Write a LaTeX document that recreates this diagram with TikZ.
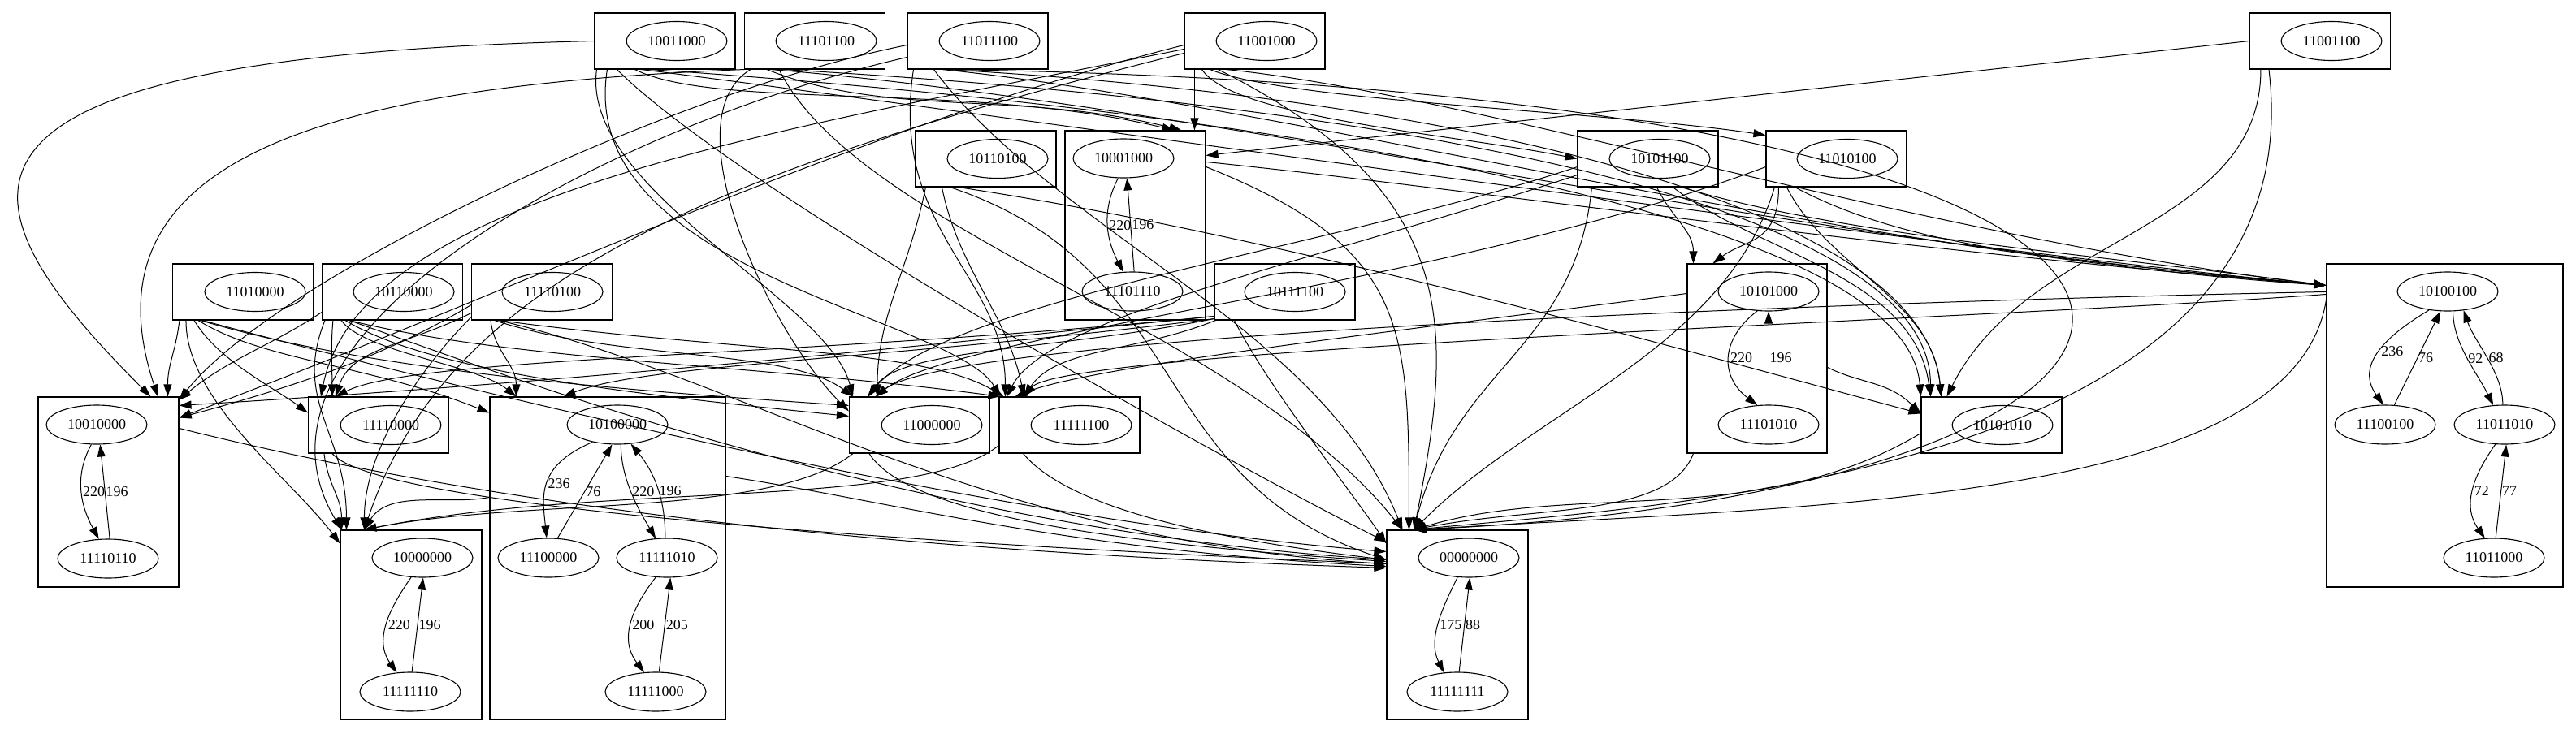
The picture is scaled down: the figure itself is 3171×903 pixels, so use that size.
\documentclass[tikz,border=0pt]{standalone}
\usepackage{fontspec}
\setmainfont{Liberation Serif}
\usetikzlibrary{arrows.meta,shapes.geometric}
\begin{document}
\begin{tikzpicture}[x=1pt,y=1pt,
  sbox/.style={draw, line width=1.1pt, rectangle, minimum width=173pt, minimum height=69pt, inner sep=0pt},
  clu/.style={draw, line width=1.1pt, rectangle, inner sep=0pt},
  stt/.style={draw, ellipse, line width=1.1pt, minimum width=124pt, minimum height=48pt, inner sep=0pt, font=\fontsize{18}{18}\selectfont},
  edg/.style={-{Triangle[length=15pt,width=10pt]}, line width=1pt},
  lbl/.style={font=\fontsize{18}{18}\selectfont, inner sep=1pt, anchor=west}]
\useasboundingbox (0,0) rectangle (3171,-903);
% single-state boxes
\node[sbox] (A) at (818.5,-50.5) {}; \node[stt] (s10011000) at (833,-50.5) {10011000};
\node[sbox] (B) at (1003,-50.5) {}; \node[stt] (s11101100) at (1017,-50.5) {11101100};
\node[sbox] (C) at (1203.5,-50.5) {}; \node[stt] (s11011100) at (1218,-50.5) {11011100};
\node[sbox] (D) at (1544.5,-50.5) {}; \node[stt] (s11001000) at (1559,-50.5) {11001000};
\node[sbox] (E) at (2856,-50.5) {}; \node[stt] (s11001100) at (2870,-50.5) {11001100};
\node[sbox] (F) at (1213.5,-195.5) {}; \node[stt] (s10110100) at (1228,-195.5) {10110100};
\node[sbox] (H) at (2028.5,-195.5) {}; \node[stt] (s10101100) at (2043,-195.5) {10101100};
\node[sbox] (I) at (2260.5,-195.5) {}; \node[stt] (s11010100) at (2274,-195.5) {11010100};
\node[sbox] (J) at (299,-359.5) {}; \node[stt] (s11010000) at (314,-359.5) {11010000};
\node[sbox] (K) at (483,-359.5) {}; \node[stt] (s10110000) at (497,-359.5) {10110000};
\node[sbox] (L) at (667,-359.5) {}; \node[stt] (s11110100) at (680,-359.5) {11110100};
\node[sbox] (M) at (1581.5,-359.5) {}; \node[stt] (s10111100) at (1594,-359.5) {10111100};
\node[sbox] (Q) at (466,-523.5) {}; \node[stt] (s11110000) at (481,-523.5) {11110000};
\node[sbox] (S) at (1132,-523.5) {}; \node[stt] (s11000000) at (1147,-523.5) {11000000};
\node[sbox] (T) at (1316.5,-523.5) {}; \node[stt] (s11111100) at (1331,-523.5) {11111100};
\node[sbox] (U) at (2451.5,-523.5) {}; \node[stt] (s10101010) at (2465,-523.5) {10101010};
% clusters
\node[clu, minimum width=173pt, minimum height=233pt] (G) at (1397.5,-277.5) {};
\node[clu, minimum width=172pt, minimum height=233pt] (N) at (2163,-441.5) {};
\node[clu, minimum width=291pt, minimum height=398pt] (O) at (3009.5,-524) {};
\node[clu, minimum width=173pt, minimum height=234pt] (P) at (133.5,-606) {};
\node[clu, minimum width=290pt, minimum height=397pt] (R) at (748,-687.5) {};
\node[clu, minimum width=174pt, minimum height=233pt] (V) at (506,-769.5) {};
\node[clu, minimum width=174pt, minimum height=233pt] (W) at (1794,-769.5) {};
\node[stt] (g1) at (1383,-195) {10001000}; \node[stt] (g2) at (1394,-359) {11101110};
\node[stt] (n1) at (2177,-359) {10101000}; \node[stt] (n2) at (2177,-523) {11101010};
\node[stt] (o1) at (3013,-359) {10100100}; \node[stt] (o2) at (2936,-523) {11100100};
\node[stt] (o3) at (3083,-523) {11011010}; \node[stt] (o4) at (3070,-687) {11011000};
\node[stt] (p1) at (119,-523) {10010000}; \node[stt] (p2) at (133,-688) {11110110};
\node[stt] (r1) at (760,-523) {10100000}; \node[stt] (r2) at (675,-687) {11100000};
\node[stt] (r3) at (821,-687) {11111010}; \node[stt] (r4) at (807,-852) {11111000};
\node[stt] (v1) at (520,-687) {10000000}; \node[stt] (v2) at (505,-852) {11111110};
\node[stt] (w1) at (1808,-687) {00000000}; \node[stt] (w2) at (1794,-852) {11111111};
% internal edges
\draw[edg] (g1.-105) .. controls +(-21,-40) and +(-21,40) .. (g2.115) node[lbl,midway]{220};
\draw[edg] (g2.85) -- (g1.-80) node[lbl,midway]{196};
\draw[edg] (n1.-120) .. controls +(-46,-35) and +(-46,35) .. (n2.120) node[lbl,midway]{220};
\draw[edg] (n2.90) -- (n1.-90) node[lbl,midway]{196};
\draw[edg] (p1.-105) .. controls +(-22,-40) and +(-22,40) .. (p2.115) node[lbl,midway]{220};
\draw[edg] (p2.85) -- (p1.-80) node[lbl,midway]{196};
\draw[edg] (v1.-120) .. controls +(-28,-40) and +(-28,40) .. (v2.125) node[lbl,midway]{220};
\draw[edg] (v2.85) -- (v1.-88) node[lbl,midway]{196};
\draw[edg] (w1.-120) .. controls +(-20,-40) and +(-20,40) .. (w2.125) node[lbl,midway]{175};
\draw[edg] (w2.85) -- (w1.-87) node[lbl,midway]{88};
\draw[edg] (r1.-145) .. controls +(-70,-30) and +(-5,50) .. (r2.95) node[lbl,midway]{236};
\draw[edg] (r2.65) -- (r1.-105) node[lbl,midway]{76};
\draw[edg] (r1.-80) .. controls +(0,-40) and +(-24,40) .. (r3.120) node[lbl,midway]{220};
\draw[edg] (r3.95) .. controls +(0,40) and +(33,-40) .. (r1.-55) node[lbl,midway]{196};
\draw[edg] (r3.-120) .. controls +(-31,-40) and +(-31,40) .. (r4.120) node[lbl,midway]{200};
\draw[edg] (r4.80) -- (r3.-80) node[lbl,midway]{205};
\draw[edg] (o1.-135) .. controls +(-50,-30) and +(-36,50) .. (o2.95) node[lbl,midway]{236};
\draw[edg] (o2.65) -- (o1.-110) node[lbl,midway]{76};
\draw[edg] (o1.-75) .. controls +(0,-40) and +(-20,40) .. (o3.120) node[lbl,midway]{92};
\draw[edg] (o3.95) .. controls +(0,40) and +(14,-40) .. (o1.-50) node[lbl,midway]{68};
\draw[edg] (o3.-115) .. controls +(-28,-40) and +(-28,40) .. (o4.115) node[lbl,midway]{72};
\draw[edg] (o4.85) -- (o3.-85) node[lbl,midway]{77};
% A
\draw[edg] (A.west) .. controls +(-850,-20) and +(-250,250) .. ([xshift=139pt]P.north west);
\draw[edg] ([xshift=28pt]A.south west) .. controls +(150,-150) and +(-200,100) .. ([yshift=-15pt]W.north west);
\draw[edg] ([xshift=50pt]A.south west) .. controls +(100,-50) and +(-250,60) .. ([xshift=135pt]G.north west);
\draw[edg] ([xshift=58pt]A.south west) .. controls +(400,-50) and +(-600,60) .. ([yshift=-27pt]O.north west);
\draw[edg] ([xshift=3pt]A.south west) .. controls +(-20,-150) and +(-30,120) .. ([xshift=5pt]S.north west);
\draw[edg] ([xshift=16pt]A.south west) .. controls +(-40,-250) and +(-60,100) .. ([xshift=2pt]T.north west);
\draw[edg] ([xshift=68pt]A.south west) .. controls +(600,-40) and +(-20,250) .. ([xshift=0pt]U.north west);
% B
\draw[edg] (B.south west) .. controls +(-500,-20) and +(-100,300) .. ([xshift=148pt]P.north west);
\draw[edg] ([xshift=8pt]B.south west) .. controls +(-100,-60) and +(-100,100) .. ([yshift=-18pt]S.north west);
\draw[edg] ([xshift=28pt]B.south west) .. controls +(150,-60) and +(-200,50) .. ([xshift=144pt]G.north west);
\draw[edg] ([xshift=33pt]B.south west) .. controls +(500,-40) and +(-700,60) .. ([yshift=-27pt]O.north west);
\draw[edg] ([xshift=43pt]B.south west) .. controls +(100,-200) and +(-200,250) .. ([xshift=20pt]W.north west);
\draw[edg] ([xshift=48pt]B.south west) .. controls +(700,-40) and +(0,250) .. ([xshift=12pt]U.north west);
% C
\draw[edg] ([yshift=-5pt]C.west) .. controls +(-300,-60) and +(120,150) .. ([yshift=-4pt]P.north east);
\draw[edg] ([yshift=-20pt]C.west) .. controls +(-350,-80) and +(-150,250) .. ([xshift=2pt]V.north west);
\draw[edg] ([xshift=8pt]C.south west) .. controls +(-30,-200) and +(0,150) .. ([xshift=8pt]T.north west);
\draw[edg] ([xshift=33pt]C.south west) .. controls +(150,-200) and +(-100,250) .. ([xshift=20pt]W.north west);
\draw[edg] ([xshift=43pt]C.south west) .. controls +(400,-40) and +(-600,40) .. ([yshift=-27pt]O.north west);
\draw[edg] ([xshift=48pt]C.south west) .. controls +(700,-40) and +(-20,220) .. ([xshift=25pt]U.north west);
\draw[edg] ([xshift=53pt]C.south west) .. controls +(1800,-30) and +(1100,50) .. ([xshift=34pt]W.north west);
% D
\draw[edg] ([xshift=13pt]D.south west) -- ([xshift=160pt]G.north west);
\draw[edg] ([xshift=22pt]D.south west) .. controls +(40,-60) and +(-150,30) .. (H.west);
\draw[edg] ([xshift=32pt]D.south west) .. controls +(100,-40) and +(-200,30) .. ([yshift=-6pt]I.north west);
\draw[edg] ([yshift=-5pt]D.west) .. controls +(-400,-100) and +(400,150) .. ([yshift=-26pt]P.north east);
\draw[edg] ([yshift=-10pt]D.west) .. controls +(-500,-100) and +(50,250) .. ([xshift=16pt]Q.north west);
\draw[edg] ([yshift=-15pt]D.west) .. controls +(-600,-150) and +(100,300) .. ([xshift=30pt]V.north west);
\draw[edg] ([xshift=42pt]D.south west) .. controls +(300,-150) and +(50,250) .. ([xshift=34pt]W.north west);
\draw[edg] ([xshift=52pt]D.south west) .. controls +(300,-30) and +(-500,60) .. ([yshift=-27pt]O.north west);
% E
\draw[edg] (E.west) -- ([yshift=-31pt]G.north east);
\draw[edg] ([xshift=24pt]E.south west) .. controls +(60,-500) and +(300,30) .. ([xshift=34pt]W.north west);
\draw[edg] ([xshift=14pt]E.south west) .. controls +(0,-200) and +(100,200) .. ([xshift=32pt]U.north west);
% F
\draw[edg] ([xshift=13pt]F.south west) .. controls +(-20,-100) and +(0,100) .. ([xshift=35pt]S.north west);
\draw[edg] ([xshift=33pt]F.south west) .. controls +(20,-100) and +(-20,100) .. ([xshift=31pt]T.north west);
\draw[edg] ([xshift=43pt]F.south west) .. controls +(300,-100) and +(-300,100) .. ([yshift=-37pt]W.north west);
\draw[edg] ([xshift=53pt]F.south west) .. controls +(400,-60) and +(-300,80) .. ([yshift=-21pt]U.north west);
% G
\draw[edg] ([yshift=-39pt]G.north east) .. controls +(300,-30) and +(-600,50) .. ([yshift=-27pt]O.north west);
\draw[edg] ([yshift=-45pt]G.north east) .. controls +(250,-100) and +(0,250) .. ([xshift=28pt]W.north west);
% H
\draw[edg] ([xshift=98pt]H.south west) .. controls +(20,-40) and +(0,40) .. ([xshift=8pt]N.north west);
\draw[edg] ([xshift=118pt]H.south west) .. controls +(100,-80) and +(-20,150) .. ([xshift=12pt]U.north west);
\draw[edg] ([xshift=18pt]H.south west) .. controls +(-20,-200) and +(50,200) .. ([xshift=34pt]W.north west);
\draw[edg] ([yshift=25pt]H.south west) .. controls +(-300,-100) and +(100,120) .. ([xshift=23pt]S.north west);
\draw[edg] ([yshift=15pt]H.south west) .. controls +(-300,-100) and +(50,100) .. ([xshift=10pt]T.north west);
\draw[edg] ([xshift=128pt]H.south west) .. controls +(200,-60) and +(-300,40) .. ([yshift=-27pt]O.north west);
% I
\draw[edg] ([xshift=16pt]I.south west) .. controls +(0,-70) and +(40,30) .. ([xshift=32pt]N.north west);
\draw[edg] ([xshift=26pt]I.south west) .. controls +(50,-100) and +(-10,120) .. ([xshift=25pt]U.north west);
\draw[edg] ([xshift=11pt]I.south west) .. controls +(-60,-200) and +(150,150) .. ([xshift=34pt]W.north west);
\draw[edg] ([yshift=25pt]I.south west) .. controls +(-400,-150) and +(100,80) .. ([xshift=33pt]S.north west);
\draw[edg] ([xshift=36pt]I.south west) .. controls +(150,-80) and +(-300,30) .. ([yshift=-27pt]O.north west);
% J
\draw[edg] ([xshift=9pt]J.south west) .. controls +(-5,-40) and +(0,40) .. ([xshift=160pt]P.north west);
\draw[edg] ([xshift=17pt]J.south west) .. controls +(0,-100) and +(-60,80) .. ([yshift=-17pt]V.north west);
\draw[edg] ([xshift=27pt]J.south west) .. controls +(30,-50) and +(-40,30) .. ([yshift=-20pt]Q.north west);
\draw[edg] ([xshift=32pt]J.south west) .. controls +(80,-50) and +(-150,60) .. ([yshift=-20pt]R.north west);
\draw[edg] ([xshift=35pt]J.south west) .. controls +(200,-60) and +(-300,20) .. ([yshift=-11pt]S.north west);
\draw[edg] ([xshift=37pt]J.south west) .. controls +(300,-80) and +(-500,40) .. ([yshift=-27pt]W.north west);
% K
\draw[edg] ([yshift=10pt]K.south west) .. controls +(-60,-40) and +(60,50) .. ([yshift=-4pt]P.north east);
\draw[edg] ([xshift=14pt]K.south west) .. controls +(-3,-30) and +(0,30) .. ([xshift=30pt]Q.north west);
\draw[edg] ([xshift=4pt]K.south west) .. controls +(-40,-100) and +(0,120) .. ([xshift=8pt]V.north west);
\draw[edg] ([xshift=24pt]K.south west) .. controls +(30,-40) and +(-50,40) .. ([xshift=33pt]R.north west);
\draw[edg] ([xshift=29pt]K.south west) .. controls +(100,-60) and +(-300,30) .. ([yshift=-24pt]S.north west);
\draw[edg] ([xshift=34pt]K.south west) .. controls +(200,-70) and +(-600,40) .. ([yshift=-37pt]W.north west);
\draw[edg] ([xshift=34pt]K.south west) .. controls +(200,-50) and +(-300,40) .. ([xshift=2pt]T.north west);
% L
\draw[edg] ([yshift=19pt]L.south west) .. controls +(-100,-60) and +(150,40) .. ([yshift=-26pt]P.north east);
\draw[edg] ([yshift=9pt]L.south west) .. controls +(-80,-40) and +(20,60) .. ([xshift=34pt]Q.north west);
\draw[edg] ([yshift=4pt]L.south west) .. controls +(-60,-60) and +(0,100) .. ([xshift=30pt]V.north west);
\draw[edg] ([xshift=24pt]L.south west) .. controls +(5,-40) and +(0,40) .. ([xshift=33pt]R.north west);
\draw[edg] ([xshift=29pt]L.south west) .. controls +(150,-50) and +(-80,60) .. ([xshift=5pt]S.north west);
\draw[edg] ([xshift=34pt]L.south west) .. controls +(300,-70) and +(-500,30) .. ([yshift=-42pt]W.north west);
\draw[edg] ([xshift=34pt]L.south west) .. controls +(300,-40) and +(-100,60) .. ([xshift=6pt]T.north west);
% M
\draw[edg] ([yshift=5pt]M.south west) .. controls +(-400,-40) and +(500,30) .. ([yshift=-11pt]P.north east);
\draw[edg] ([yshift=5pt]M.south west) .. controls +(-500,-50) and +(100,50) .. ([xshift=34pt]Q.north west);
\draw[edg] ([yshift=2pt]M.south west) .. controls +(-400,-50) and +(100,40) .. ([xshift=91pt]R.north west);
\draw[edg] ([yshift=2pt]M.south west) .. controls +(-200,-40) and +(40,60) .. ([xshift=24pt]S.north west);
\draw[edg] ([xshift=2pt]M.south west) .. controls +(-100,-40) and +(40,60) .. ([xshift=31pt]T.north west);
\draw[edg] ([xshift=25pt]M.south west) .. controls +(40,-80) and +(-40,60) .. ([yshift=-17pt]W.north west);
% N
\draw[edg] ([yshift=-128pt]N.north east) .. controls +(40,-20) and +(-40,40) .. ([yshift=-21pt]U.north west);
\draw[edg] ([xshift=8pt]N.south west) .. controls +(-30,-80) and +(150,30) .. ([xshift=34pt]W.north west);
\draw[edg] ([yshift=-37pt]N.north west) .. controls +(-300,-40) and +(100,40) .. ([xshift=20pt]T.north west);
% O
\draw[edg] ([yshift=-45pt]O.north west) .. controls +(-40,-250) and +(500,30) .. ([xshift=34pt]W.north west);
\draw[edg] ([yshift=-35pt]O.north west) .. controls +(-500,-10) and +(100,80) .. ([xshift=33pt]S.north west);
\draw[edg] ([yshift=-38pt]O.north west) .. controls +(-400,-30) and +(50,60) .. ([xshift=31pt]T.north west);
% lower rows
\draw[edg] ([yshift=-39pt]P.north east) .. controls +(400,-100) and +(-600,20) .. ([yshift=-47pt]W.north west);
\draw[edg] ([xshift=20pt]Q.south west) .. controls +(5,-40) and +(0,40) .. ([xshift=2pt]V.north west);
\draw[edg] ([xshift=30pt]Q.south west) .. controls +(50,-60) and +(-700,30) .. ([yshift=-42pt]W.north west);
\draw[edg] ([yshift=-124pt]R.north west) .. controls +(-50,-10) and +(30,50) .. ([xshift=30pt]V.north west);
\draw[edg] ([yshift=-98pt]R.north east) .. controls +(200,-30) and +(-400,20) .. ([yshift=-45pt]W.north west);
\draw[edg] ([xshift=5pt]S.south west) .. controls +(-100,-80) and +(200,40) .. ([xshift=30pt]V.north west);
\draw[edg] ([xshift=25pt]S.south west) .. controls +(50,-80) and +(-300,20) .. ([yshift=-39pt]W.north west);
\draw[edg] ([yshift=10pt]T.south west) .. controls +(-100,-80) and +(300,60) .. ([xshift=30pt]V.north west);
\draw[edg] ([xshift=30pt]T.south west) .. controls +(50,-60) and +(-250,30) .. ([yshift=-37pt]W.north west);
\draw[edg] ([yshift=25pt]U.south west) .. controls +(-200,-120) and +(200,60) .. ([xshift=34pt]W.north west);
\end{tikzpicture}
\end{document}
